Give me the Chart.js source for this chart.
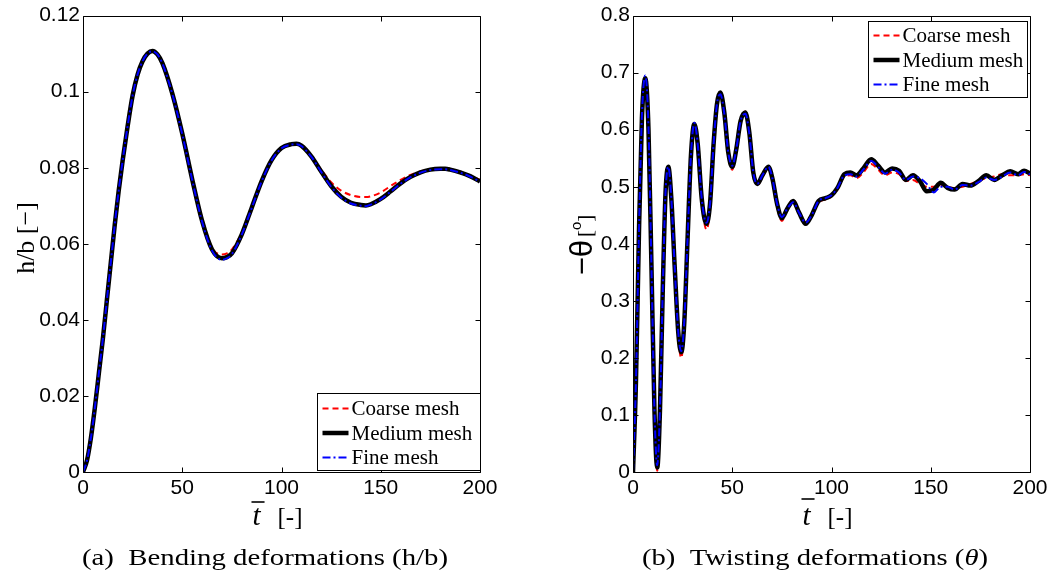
<!DOCTYPE html>
<html>
<head>
<meta charset="utf-8">
<script src="https://cdn.jsdelivr.net/npm/chart.js@4.4.1/dist/chart.umd.min.js"></script>
<style>
  html, body { margin: 0; padding: 0; background: #fff; }
  #wrap { position: relative; width: 1054px; height: 577px; }
  canvas { position: absolute; top: 0; }
</style>
</head>
<body>
<div id="wrap">
  <canvas id="bend" width="527" height="577" style="left:0"></canvas>
  <canvas id="twist" width="527" height="577" style="left:527px"></canvas>
</div>
<script>
// ---- data ----
const xTicks = [0, 50, 100, 150, 200];
const bendTicks = [0, 0.02, 0.04, 0.06, 0.08, 0.1, 0.12];
const twistTicks = [0, 0.1, 0.2, 0.3, 0.4, 0.5, 0.6, 0.7, 0.8];
const meshLabels = ['Coarse mesh', 'Medium mesh', 'Fine mesh'];

// bending h/b
const tBend = [0, 2, 4, 6, 8, 10, 12, 14, 16, 18, 20, 22.5, 25, 27.5, 30, 32.5, 35, 37.5, 40, 45,
  50, 55, 60, 65, 70, 72.5, 75, 80, 85, 90, 95, 100, 105, 107.5, 110, 115, 120, 125, 130, 135,
  140, 142.5, 145, 150, 155, 160, 165, 170, 175, 180, 182.5, 185, 190, 195, 200];
const bendMedium = [0, 0.003, 0.009, 0.017, 0.026, 0.035, 0.045, 0.055, 0.065, 0.074, 0.082, 0.091, 0.099, 0.1045, 0.108, 0.110, 0.1107, 0.1098, 0.1075, 0.0995,
  0.089, 0.077, 0.066, 0.0585, 0.0562, 0.0565, 0.0575, 0.0625, 0.0695, 0.0765, 0.082, 0.0852, 0.0862, 0.0863, 0.0858, 0.083, 0.079, 0.0752, 0.0724, 0.0708,
  0.0702, 0.0701, 0.0704, 0.0718, 0.0738, 0.0759, 0.0776, 0.0788, 0.0795, 0.0797, 0.0797, 0.0795, 0.0788, 0.0778, 0.0764];
const bendCoarse = [0, 0.003, 0.009, 0.017, 0.026, 0.035, 0.045, 0.055, 0.065, 0.074, 0.082, 0.091, 0.099, 0.1045, 0.108, 0.110, 0.1105, 0.1097, 0.1075, 0.0997,
  0.0893, 0.0775, 0.0668, 0.059, 0.0572, 0.0575, 0.0585, 0.063, 0.0698, 0.0765, 0.0818, 0.085, 0.086, 0.0861, 0.0857, 0.0832, 0.0795, 0.0762, 0.074, 0.0728,
  0.0723, 0.0723, 0.0725, 0.0735, 0.0752, 0.0768, 0.0781, 0.079, 0.0796, 0.0799, 0.0799, 0.0797, 0.079, 0.078, 0.0768];
const bendFine = [0, 0.003, 0.009, 0.017, 0.026, 0.035, 0.045, 0.055, 0.065, 0.074, 0.082, 0.091, 0.099, 0.1045, 0.108, 0.110, 0.1106, 0.1098, 0.1074, 0.0994,
  0.0888, 0.0768, 0.0658, 0.0582, 0.0558, 0.0562, 0.0573, 0.0624, 0.0694, 0.0764, 0.0819, 0.0851, 0.0861, 0.0862, 0.0857, 0.0829, 0.0789, 0.075, 0.0722, 0.0706,
  0.07, 0.0699, 0.0703, 0.0717, 0.0737, 0.0758, 0.0775, 0.0787, 0.0794, 0.0796, 0.0796, 0.0794, 0.0787, 0.0777, 0.0763];

// twisting -theta
const tTwist = [0, 1.5, 3, 4.5, 6.2, 7.8, 9.3, 10.8, 12.2, 13.6, 15, 16.4, 17.8, 19.3, 21, 22.8, 24.3, 25.8, 27.5, 29.2,
  30.9, 32.6, 34.6, 37, 38.8, 40.6, 42.3, 44, 46, 48, 50, 52, 54.2, 56.6, 58.6, 60.6, 62.6, 65.2, 68.2, 70.2,
  72.6, 75, 77.8, 80.7, 83.6, 87, 90, 93.5, 97, 100, 103, 106.5, 109.5, 112.5, 116, 120, 123.5, 127, 130.5, 134,
  137.5, 141, 144.5, 148, 151.5, 155, 158.5, 162, 166, 170, 174, 178, 182, 186, 190, 194, 197, 200];
const twistMedium = [0, 0.16, 0.42, 0.62, 0.69, 0.60, 0.36, 0.11, 0.008, 0.11, 0.32, 0.49, 0.535, 0.48, 0.36, 0.245, 0.21, 0.26, 0.41, 0.555,
  0.61, 0.575, 0.48, 0.435, 0.47, 0.575, 0.645, 0.665, 0.63, 0.56, 0.535, 0.565, 0.615, 0.63, 0.595, 0.525, 0.505, 0.52, 0.535, 0.515,
  0.47, 0.445, 0.462, 0.475, 0.455, 0.435, 0.45, 0.475, 0.48, 0.485, 0.498, 0.522, 0.525, 0.52, 0.532, 0.548, 0.537, 0.525, 0.532, 0.528,
  0.512, 0.52, 0.51, 0.492, 0.495, 0.507, 0.498, 0.495, 0.505, 0.502, 0.51, 0.52, 0.512, 0.52, 0.527, 0.522, 0.528, 0.523];
const twistCoarse = [0, 0.16, 0.42, 0.62, 0.688, 0.60, 0.36, 0.10, 0.002, 0.105, 0.32, 0.49, 0.532, 0.478, 0.355, 0.238, 0.200, 0.255, 0.405, 0.552,
  0.608, 0.572, 0.475, 0.425, 0.462, 0.572, 0.643, 0.663, 0.628, 0.555, 0.53, 0.562, 0.613, 0.632, 0.597, 0.525, 0.502, 0.517, 0.532, 0.512,
  0.465, 0.44, 0.462, 0.478, 0.458, 0.438, 0.45, 0.472, 0.478, 0.483, 0.495, 0.518, 0.52, 0.515, 0.525, 0.54, 0.53, 0.52, 0.525, 0.522,
  0.51, 0.512, 0.505, 0.5, 0.5, 0.503, 0.5, 0.498, 0.5, 0.505, 0.51, 0.515, 0.518, 0.522, 0.52, 0.52, 0.522, 0.52];
const twistFine = [0, 0.16, 0.42, 0.625, 0.695, 0.605, 0.36, 0.11, 0.012, 0.112, 0.32, 0.49, 0.535, 0.48, 0.36, 0.245, 0.212, 0.262, 0.41, 0.555,
  0.612, 0.575, 0.48, 0.437, 0.47, 0.575, 0.645, 0.662, 0.628, 0.56, 0.537, 0.565, 0.615, 0.628, 0.593, 0.525, 0.505, 0.52, 0.535, 0.515,
  0.47, 0.447, 0.462, 0.473, 0.455, 0.437, 0.45, 0.475, 0.48, 0.485, 0.498, 0.52, 0.522, 0.518, 0.53, 0.545, 0.535, 0.523, 0.53, 0.525,
  0.512, 0.518, 0.515, 0.505, 0.49, 0.5, 0.5, 0.495, 0.503, 0.502, 0.508, 0.516, 0.512, 0.518, 0.525, 0.52, 0.526, 0.522];

// ---- styles ----
const meshStyles = [
  { borderColor: '#ff0000', borderWidth: 2, borderDash: [6, 4], order: 3 },
  { borderColor: '#000000', borderWidth: 4.5, borderDash: [], order: 2 },
  { borderColor: '#0000ff', borderWidth: 2, borderDash: [8, 3, 2, 3], order: 1 }
];
const tickFont = { family: 'Liberation Sans', size: 21 };

function series(t, v) {
  return t.map((x, i) => ({ x: x, y: v[i] }));
}

// box + inward ticks on all four sides
const framePlugin = {
  id: 'frame',
  afterDatasetsDraw(chart) {
    const { ctx, chartArea: a, scales: { x, y } } = chart;
    const L = Math.round(a.left) + 0.5, R = Math.round(a.right) + 0.5;
    const T = Math.round(a.top) + 0.5, B = Math.round(a.bottom) + 0.5;
    ctx.save();
    ctx.strokeStyle = '#000';
    ctx.lineWidth = 1;
    ctx.beginPath();
    ctx.rect(L, T, R - L, B - T);
    x.ticks.forEach(t => {
      const px = Math.round(x.getPixelForValue(t.value)) + 0.5;
      ctx.moveTo(px, B); ctx.lineTo(px, B - 5);
      ctx.moveTo(px, T); ctx.lineTo(px, T + 5);
    });
    y.ticks.forEach(t => {
      const py = Math.round(y.getPixelForValue(t.value)) + 0.5;
      ctx.moveTo(L, py); ctx.lineTo(L + 5, py);
      ctx.moveTo(R, py); ctx.lineTo(R - 5, py);
    });
    ctx.stroke();
    ctx.restore();
  }
};

// legend box drawn inside the axes
const meshLegendPlugin = {
  id: 'meshLegend',
  afterDraw(chart, args, opts) {
    const { ctx, chartArea: a } = chart;
    const x0 = Math.round(a.right + opts.dx - opts.width) + 0.5;
    const y0 = opts.corner === 'bottom'
      ? Math.round(a.bottom + opts.dy - opts.height) + 0.5
      : Math.round(a.top + opts.dy) + 0.5;
    ctx.save();
    ctx.fillStyle = '#fff';
    ctx.fillRect(x0, y0, opts.width, opts.height);
    ctx.strokeStyle = '#000';
    ctx.lineWidth = 1;
    ctx.strokeRect(x0, y0, opts.width, opts.height);
    ctx.font = '21px "Liberation Serif"';
    ctx.textBaseline = 'middle';
    chart.data.datasets.forEach((ds, i) => {
      const ry = y0 + opts.rowTop + i * opts.rowGap;
      ctx.strokeStyle = ds.borderColor;
      ctx.lineWidth = ds.borderWidth;
      ctx.setLineDash(ds.borderDash);
      ctx.beginPath();
      ctx.moveTo(x0 + 5, ry);
      ctx.lineTo(x0 + 31, ry);
      ctx.stroke();
      ctx.setLineDash([]);
      ctx.fillStyle = '#000';
      ctx.fillText(ds.label, x0 + 34, ry + 1);
    });
    ctx.restore();
  }
};

function drawRuns(ctx, runs, x, y) {
  let w = 0;
  runs.forEach(r => { ctx.font = r.font; r.w = ctx.measureText(r.text).width; w += r.w + (r.gap || 0); });
  let cx = x - w / 2;
  runs.forEach(r => {
    ctx.font = r.font;
    ctx.fillText(r.text, cx, y + (r.dy || 0));
    r.x = cx;
    cx += r.w + (r.gap || 0);
  });
  return runs;
}

// axis titles and caption
const titlePlugin = {
  id: 'titles',
  afterDraw(chart, args, opts) {
    const { ctx, chartArea: a } = chart;
    ctx.save();
    ctx.fillStyle = '#000';
    ctx.strokeStyle = '#000';
    ctx.textBaseline = 'alphabetic';

    // x title: t with overbar, then [-]
    const cx = (a.left + a.right) / 2 - 4;
    const runs = drawRuns(ctx, [
      { text: 't', font: 'italic 29px "Liberation Serif"', gap: 17 },
      { text: '[-]', font: '25px "Liberation Serif"' }
    ], cx, 525);
    ctx.lineWidth = 1.6;
    ctx.beginPath();
    ctx.moveTo(runs[0].x - 1, opts.barY);
    ctx.lineTo(runs[0].x + runs[0].w + 4, opts.barY);
    ctx.stroke();

    // y title, rotated
    ctx.save();
    ctx.translate(opts.yTitleX, opts.yTitleY);
    ctx.rotate(-Math.PI / 2);
    drawRuns(ctx, opts.yRuns.map(r => Object.assign({}, r)), 0, 0);
    ctx.restore();

    // caption, stretched to the width of the serif caption
    const cap = opts.caption.map(r => Object.assign({}, r));
    let w = 0;
    cap.forEach(r => { ctx.font = r.font; w += ctx.measureText(r.text).width; });
    ctx.save();
    ctx.translate(opts.captionX, 565);
    ctx.scale(opts.captionWidth / w, 1);
    drawRuns(ctx, cap, 0, 0);
    ctx.restore();
    ctx.restore();
  }
};

function makeChart(id, cfg) {
  return new Chart(document.getElementById(id), {
    type: 'line',
    data: {
      datasets: cfg.values.map((v, i) => Object.assign({
        label: meshLabels[i],
        data: series(cfg.t, v)
      }, meshStyles[i]))
    },
    options: {
      responsive: false,
      animation: false,
      layout: { padding: cfg.padding },
      elements: {
        point: { radius: 0 },
        line: { cubicInterpolationMode: 'monotone', borderCapStyle: 'butt', borderJoinStyle: 'round' }
      },
      plugins: {
        legend: { display: false },
        tooltip: { enabled: false },
        meshLegend: cfg.legend,
        titles: cfg.titles
      },
      scales: {
        x: {
          type: 'linear', min: 0, max: 200,
          afterBuildTicks: s => { s.ticks = xTicks.map(v => ({ value: v })); },
          afterFit: s => { s.height = cfg.xAxisHeight; },
          grid: { display: false, drawTicks: false },
          border: { display: false },
          ticks: { font: tickFont, color: '#000', padding: 4, maxRotation: 0, autoSkip: false }
        },
        y: {
          type: 'linear', min: 0, max: cfg.yTicks[cfg.yTicks.length - 1],
          afterBuildTicks: s => { s.ticks = cfg.yTicks.map(v => ({ value: v })); },
          afterFit: s => { s.width = cfg.yAxisWidth; },
          grid: { display: false, drawTicks: false },
          border: { display: false },
          ticks: {
            font: tickFont, color: '#000', padding: 3, autoSkip: false,
            callback: v => String(+v.toFixed(cfg.decimals))
          }
        }
      }
    },
    plugins: [framePlugin, meshLegendPlugin, titlePlugin]
  });
}

makeChart('bend', {
  t: tBend,
  values: [bendCoarse, bendMedium, bendFine],
  yTicks: bendTicks,
  decimals: 2,
  padding: { left: 0, top: 12, right: 47, bottom: 0 },
  xAxisHeight: 105,
  yAxisWidth: 83,
  legend: { corner: 'bottom', dx: 0, dy: -2, width: 163, height: 77, rowTop: 15, rowGap: 24.5 },
  titles: {
    barY: 502,
    yTitleX: 34, yTitleY: 238,
    yRuns: [{ text: 'h/b [\u2212]', font: '26px "Liberation Serif"' }],
    captionX: 265, captionWidth: 366,
    caption: [{ text: '(a)  Bending deformations (h/b)', font: '23px "Liberation Serif"' }]
  }
});

makeChart('twist', {
  t: tTwist,
  values: [twistCoarse, twistMedium, twistFine],
  yTicks: twistTicks,
  decimals: 1,
  padding: { left: 0, top: 12.5, right: 24, bottom: 0 },
  xAxisHeight: 105,
  yAxisWidth: 106,
  legend: { corner: 'top', dx: -3, dy: 5, width: 159, height: 76, rowTop: 14, rowGap: 24.5 },
  titles: {
    barY: 499,
    yTitleX: 592 - 527, yTitleY: 245,
    yRuns: [
      { text: '\u2212\u03b8', font: '31px "Liberation Sans"', gap: 3 },
      { text: '[', font: '21px "Liberation Serif"' },
      { text: 'o', font: '15px "Liberation Sans"', dy: -11 },
      { text: ']', font: '21px "Liberation Serif"' }
    ],
    captionX: 815 - 527, captionWidth: 346,
    caption: [
      { text: '(b)  Twisting deformations (', font: '23px "Liberation Serif"' },
      { text: '\u03b8', font: 'italic 23px "Liberation Serif"' },
      { text: ')', font: '23px "Liberation Serif"' }
    ]
  }
});
</script>
</body>
</html>
